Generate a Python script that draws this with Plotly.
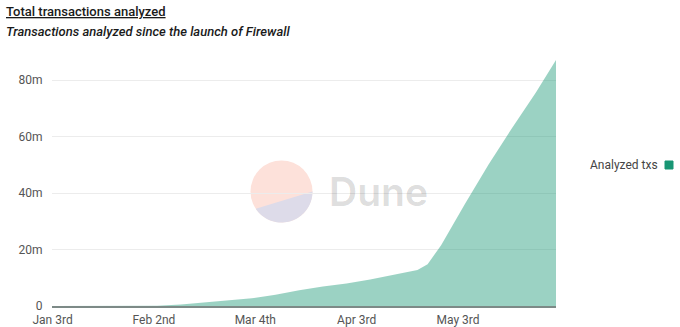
import math
import plotly.graph_objects as go

# Cumulative transactions analyzed since the Firewall launch
dates = [
    "2023-01-03", "2023-01-17", "2023-01-31", "2023-02-03", "2023-02-10",
    "2023-02-17", "2023-02-24", "2023-03-03", "2023-03-10", "2023-03-17",
    "2023-03-24", "2023-03-31", "2023-04-07", "2023-04-14", "2023-04-21",
    "2023-04-24", "2023-04-28", "2023-05-05", "2023-05-12", "2023-05-19",
    "2023-05-26", "2023-06-01",
]
analyzed_txs = [
    0, 0, 0, 0.05e6, 0.5e6,
    1.2e6, 1.8e6, 2.7e6, 4.0e6, 5.6e6,
    6.9e6, 8.0e6, 9.4e6, 11.0e6, 12.7e6,
    14.8e6, 21.5e6, 36.0e6, 50.0e6, 63.0e6,
    75.5e6, 87.1e6,
]

x_tick_vals = ["2023-01-03", "2023-02-02", "2023-03-04", "2023-04-03", "2023-05-03"]
x_tick_text = ["Jan 3rd", "Feb 2nd", "Mar 4th", "Apr 3rd", "May 3rd"]
y_tick_vals = [0, 20e6, 40e6, 60e6, 80e6]
y_tick_text = ["0", "20m", "40m", "60m", "80m"]

W, H = 680, 327
ML, MR, MT, MB = 52, 124, 55, 21
PW, PH = W - ML - MR, H - MT - MB

FONT = "Roboto"
TEAL = "rgb(24,150,116)"


def px_to_paper(px, py):
    return (px - ML) / PW, (H - MB - py) / PH


fig = go.Figure()
fig.add_trace(go.Scatter(
    x=dates, y=analyzed_txs, name="Analyzed txs",
    mode="lines", line=dict(width=0, color=TEAL),
    fill="tozeroy", fillcolor="rgba(24,150,116,0.43)",
    hoverinfo="x+y", showlegend=False,
))

shapes = []
# watermark: two-tone disc
cx, cy, r = 281.5, 191.5, 31
x0, y0 = px_to_paper(cx - r, cy + r)
x1, y1 = px_to_paper(cx + r, cy - r)
shapes.append(dict(type="circle", xref="paper", yref="paper", x0=x0, y0=y0, x1=x1, y1=y1,
                   fillcolor="rgb(253,225,218)", line=dict(width=0), layer="below"))
pts = []
a_start, a_end = 213.8, 360.0
n = 40
for i in range(n + 1):
    a = math.radians(a_start + (a_end - a_start) * i / n)
    px = cx + r * math.cos(a)
    py = cy - r * math.sin(a)
    pts.append(px_to_paper(px, py))
path = "M " + " L ".join(f"{p[0]:.5f},{p[1]:.5f}" for p in pts) + " Z"
shapes.append(dict(type="path", xref="paper", yref="paper", path=path,
                   fillcolor="rgb(221,219,233)", line=dict(width=0), layer="below"))

# legend swatch
lx0, ly0 = px_to_paper(665, 169)
lx1, ly1 = px_to_paper(673, 161)
shapes.append(dict(type="rect", xref="paper", yref="paper", x0=lx0, y0=ly0, x1=lx1, y1=ly1,
                   fillcolor=TEAL, line=dict(width=1, color=TEAL)))

annotations = []
tx, ty = px_to_paper(378, 191)
annotations.append(dict(text="Dune", xref="paper", yref="paper", x=tx, y=ty,
                        showarrow=False, xanchor="center", yanchor="middle",
                        font=dict(family="Inter", size=39, color="rgba(0,0,0,0.15)", weight=600)))
ax, ay = px_to_paper(660, 165)
annotations.append(dict(text="Analyzed txs", xref="paper", yref="paper", x=ax, y=ay,
                        showarrow=False, xanchor="right", yanchor="middle",
                        font=dict(family=FONT, size=12, color="#444")))
annotations.append(dict(text="Total transactions analyzed", xref="paper", yref="paper",
                        x=px_to_paper(4, 0)[0], y=px_to_paper(0, 12)[1],
                        showarrow=False, xanchor="left", yanchor="middle",
                        font=dict(family=FONT, size=13, color="#1a1a1a", weight=500,
                                  lineposition="under")))
annotations.append(dict(text="<i>Transactions analyzed since the launch of Firewall</i>",
                        xref="paper", yref="paper",
                        x=px_to_paper(4, 0)[0], y=px_to_paper(0, 31)[1],
                        showarrow=False, xanchor="left", yanchor="middle",
                        font=dict(family=FONT, size=13, color="#1a1a1a", weight=500)))

fig.update_layout(
    width=W, height=H,
    margin=dict(l=ML, r=MR, t=MT, b=MB, autoexpand=False),
    paper_bgcolor="white", plot_bgcolor="white",
    font=dict(family=FONT, size=12, color="#555"),
    shapes=shapes, annotations=annotations,
    showlegend=False,
)
fig.update_xaxes(
    type="date", range=["2023-01-02 20:00", "2023-06-01"],
    tickvals=x_tick_vals, ticktext=x_tick_text, automargin=False,
    showgrid=False, showline=True, linecolor="#7d8a87", linewidth=1.5,
    ticks="outside", ticklen=2, tickcolor="rgba(0,0,0,0)",
    tickfont=dict(size=12, color="#555"), fixedrange=True,
)
fig.update_yaxes(
    range=[0, 88.85e6], tickvals=y_tick_vals, ticktext=y_tick_text, automargin=False,
    showgrid=True, gridcolor="#ececec", gridwidth=1, zeroline=False,
    ticks="outside", ticklen=6, tickcolor="rgba(0,0,0,0)",
    tickfont=dict(size=12, color="#555"), fixedrange=True,
)

fig.write_html("out.html")
